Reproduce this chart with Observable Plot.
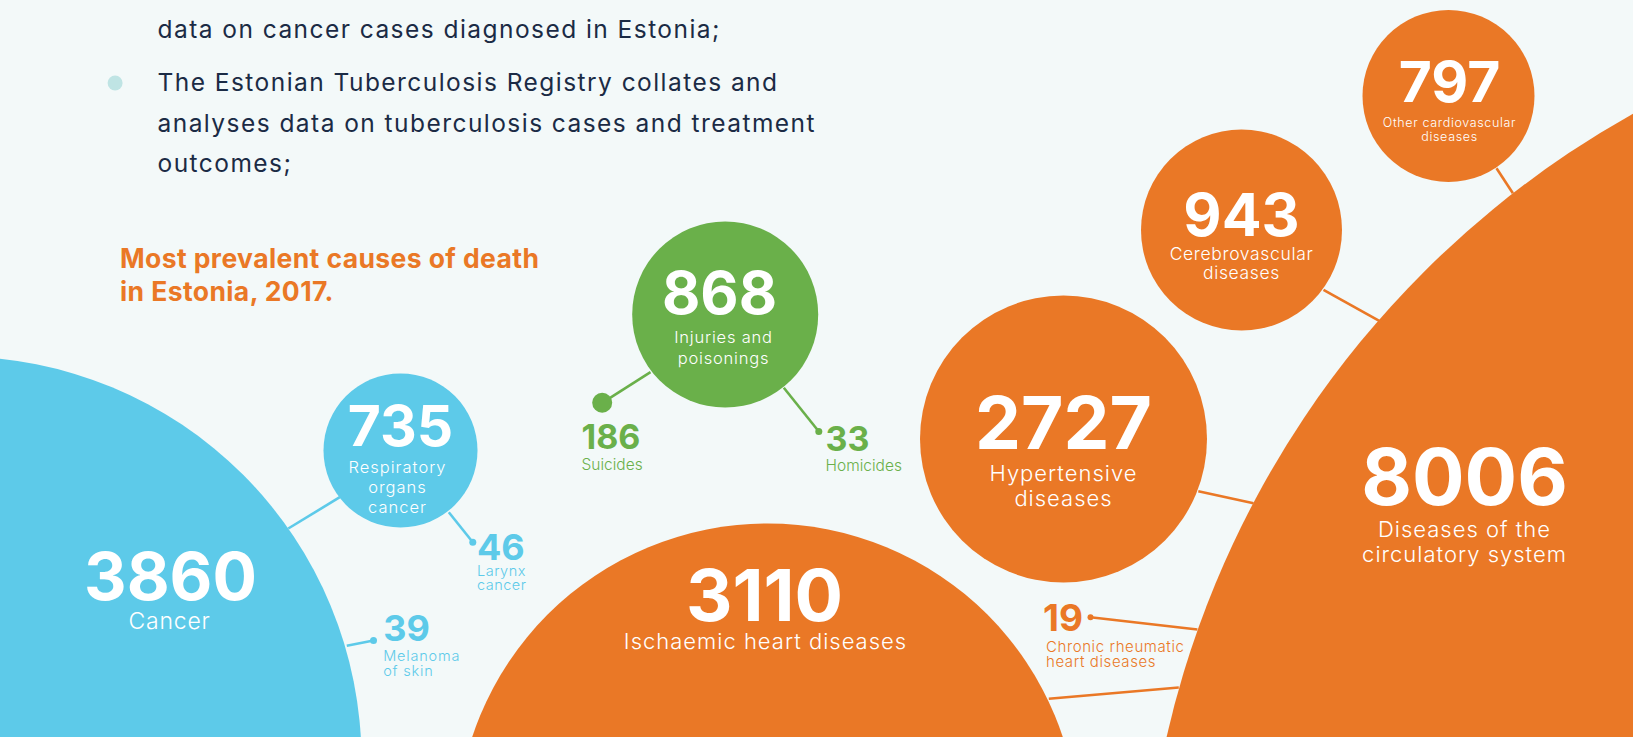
<!DOCTYPE html>
<html><head><meta charset="utf-8">
<script src="https://cdn.jsdelivr.net/npm/d3@7"></script>
<script src="https://cdn.jsdelivr.net/npm/@observablehq/plot@0.6"></script>
<style>html,body{margin:0;padding:0;overflow:hidden;background:#F3F9F9;}#chart svg{display:block}</style>
</head><body><div id="chart"></div>
<script>
// ---------- DATA ----------
const introLines = [
  "data on cancer cases diagnosed in Estonia;",
  "The Estonian Tuberculosis Registry collates and",
  "analyses data on tuberculosis cases and treatment",
  "outcomes;"
];
const titleLines = ["Most prevalent causes of death", "in Estonia, 2017."];

const causes = [
  "Cancer",
  "Respiratory\norgans\ncancer",
  "Injuries and\npoisonings",
  "Ischaemic heart diseases",
  "Hypertensive\ndiseases",
  "Cerebrovascular\ndiseases",
  "Other cardiovascular\ndiseases",
  "Diseases of the\ncirculatory system"
];
const deaths = [3860, 735, 868, 3110, 2727, 943, 797, 8006];
const groups = ["cancer", "cancer", "injury", "circulatory", "circulatory", "circulatory", "circulatory", "circulatory"];

const subCauses = ["Larynx\ncancer", "Melanoma\nof skin", "Suicides", "Homicides", "Chronic rheumatic\nheart diseases"];
const subDeaths = [46, 39, 186, 33, 19];
const subGroups = ["cancer", "cancer", "injury", "injury", "circulatory"];

const palette = {cancer: "#5DCAE9", injury: "#6AB04A", circulatory: "#EA7826"};

// ---------- LAYOUT (positions / sizes, pixels) ----------
const bubbleLayout = [
  {cx: -43,  cy: 760,   r: 404,  nx: 170,  ny: 599,  ns: 66, lx: 169,  ly: 628,   ls: 23,   lg: 24,   sp: 0.08},
  {cx: 400,  cy: 450,   r: 77,   nx: 400,  ny: 445,  ns: 57, lx: 397,  ly: 472.5, ls: 16.5, lg: 20.2, sp: 0.1},
  {cx: 724.7,cy: 314,   r: 93,   nx: 719,  ny: 313,  ns: 59, lx: 723,  ly: 342.5, ls: 16.5, lg: 21,   sp: 0.08},
  {cx: 767,  cy: 834,   r: 311,  nx: 764,  ny: 620,  ns: 72, lx: 765,  ly: 648.5, ls: 22,   lg: 24,   sp: 0.1},
  {cx: 1063, cy: 438.5, r: 143.5,nx: 1063, ny: 448,  ns: 73, lx: 1063, ly: 480.5, ls: 22,   lg: 24.5, sp: 0.1},
  {cx: 1241, cy: 229.5, r: 100.5,nx: 1241, ny: 235,  ns: 59, lx: 1241, ly: 259.3, ls: 17.5, lg: 19.5, sp: 0.065},
  {cx: 1448, cy: 95.5,  r: 86,   nx: 1449, ny: 101.5,ns: 57, lx: 1449, ly: 126,   ls: 12.5, lg: 14.7, sp: 0.065},
  {cx: 2101, cy: 950,   r: 959,  nx: 1464, ny: 504,  ns: 78, lx: 1464, ly: 536.5, ls: 22,   lg: 25,   sp: 0.1}
];
const subLayout = [
  {x: 476.5, ny: 559,  ns: 36, ly: 575,   ls: 14.5, lg: 14.7, sp: 0.05, dx: 472.3, dy: 541.7, dr: 3.5, x1: 448.3, y1: 511.7},
  {x: 382.7, ny: 640,  ns: 36, ly: 660.5, ls: 14.5, lg: 14.7, sp: 0.08, dx: 373,   dy: 640,   dr: 3.5, x1: 346.3, y1: 645.2},
  {x: 581,   ny: 448,  ns: 34, ly: 469.3, ls: 15.5, lg: 18,   sp: 0,    dx: 601.7, dy: 402.3, dr: 10,  x1: 650,   y1: 371.7},
  {x: 825,   ny: 450,  ns: 34, ly: 470.7, ls: 15.5, lg: 18,   sp: 0,    dx: 818.3, dy: 431,   dr: 3.5, x1: 783.3, y1: 387.3},
  {x: 1042.5,ny: 630,  ns: 37, ly: 651.7, ls: 15,   lg: 15.2, sp: 0.06, dx: 1090,  dy: 616.7, dr: 3,   x1: 1196.9,y1: 629}
];
// connectors from sub-bubbles into their parent circles
const connectorLayout = [
  {x1: 339.3,  y1: 496.7, x2: 287.8,  y2: 528,   g: "cancer"},
  {x1: 1197.8, y1: 490.7, x2: 1253,   y2: 502.7, g: "circulatory"},
  {x1: 1323,   y1: 289.3, x2: 1379.2, y2: 320.7, g: "circulatory"},
  {x1: 1496,   y1: 167.7, x2: 1512.4, y2: 192.7, g: "circulatory"},
  {x1: 1048.3, y1: 698.3, x2: 1178.3, y2: 687,   g: "circulatory"}
];

// ---------- BUILD ----------
const bubbles = causes.map((c, i) => ({...bubbleLayout[i], cause: c, value: deaths[i], fill: palette[groups[i]]}));
const subs = subCauses.map((c, i) => ({...subLayout[i], cause: c, value: subDeaths[i], fill: palette[subGroups[i]]}));

const rows = [];
bubbles.forEach(b => {
  rows.push({x: b.nx, y: b.ny, text: String(b.value), size: b.ns, fill: "white", w: 700, a: "middle", sp: "0em"});
  b.cause.split("\n").forEach((t, j) => rows.push({x: b.lx, y: b.ly + j * b.lg, text: t, size: b.ls, fill: "white", w: 300, a: "middle", sp: b.sp + "em"}));
});
subs.forEach(s => {
  rows.push({x: s.x, y: s.ny, text: String(s.value), size: s.ns, fill: s.fill, w: 700, a: "start", sp: "0em"});
  s.cause.split("\n").forEach((t, j) => rows.push({x: s.x + (s.value === 19 ? 3 : 0), y: s.ly + j * s.lg, text: t, size: s.ls, fill: s.fill, w: 300, a: "start", sp: s.sp + "em"}));
});
const introY = [37, 90.7, 131, 171.5];
introLines.forEach((t, i) => rows.push({x: 157, y: introY[i], text: t, size: 24.5, fill: "#1B2B45", w: 400, a: "start", sp: "1.45px"}));
titleLines.forEach((t, i) => rows.push({x: 119.5, y: 267 + i * 33, text: t, size: 26.5, fill: "#EA7826", w: 700, a: "start", sp: "0.4px"}));

const links = [
  ...connectorLayout.map(c => ({...c, fill: palette[c.g]})),
  ...subs.map(s => ({x1: s.x1, y1: s.y1, x2: s.dx, y2: s.dy, fill: s.fill}))
];

// one text mark per (weight, anchor, letter-spacing) style
const styleKeys = Array.from(new Set(rows.map(d => `${d.w}|${d.a}|${d.sp}`)));
const textMarks = styleKeys.map((k, i) => {
  const [w, a, sp] = k.split("|");
  return Plot.text(rows.filter(d => `${d.w}|${d.a}|${d.sp}` === k), {
    x: "x", y: "y", text: "text", fontSize: "size", fill: "fill",
    fontWeight: +w, textAnchor: a, lineAnchor: "bottom",
    fontFamily: "Inter, Lato, sans-serif", ariaDescription: "ls" + i
  });
});

const chart = Plot.plot({
  width: 1633, height: 737, margin: 0,
  style: {background: "#F3F9F9", overflow: "hidden"},
  x: {domain: [0, 1633], range: [0, 1633], axis: null},
  y: {domain: [0, 737], range: [0, 737], axis: null},
  r: {type: "linear", domain: [0, 1000], range: [0, 1000]},
  color: {type: "identity"},
  marks: [
    Plot.link(links, {x1: "x1", y1: "y1", x2: "x2", y2: "y2", stroke: "fill", strokeWidth: 2.6}),
    Plot.dot(bubbles, {x: "cx", y: "cy", r: "r", fill: "fill", stroke: null, clip: true}),
    Plot.dot(subs, {x: "dx", y: "dy", r: "dr", fill: "fill", stroke: null}),
    Plot.dot([{x: 114.6, y: 82.5}], {x: "x", y: "y", r: 7.5, fill: "#BFE4E4"}),
    ...textMarks
  ]
});
styleKeys.forEach((k, i) => {
  const sp = k.split("|")[2];
  chart.querySelectorAll(`g[aria-description="ls${i}"]`).forEach(g => g.setAttribute("letter-spacing", sp));
});
document.getElementById("chart").append(chart);
</script></body></html>
